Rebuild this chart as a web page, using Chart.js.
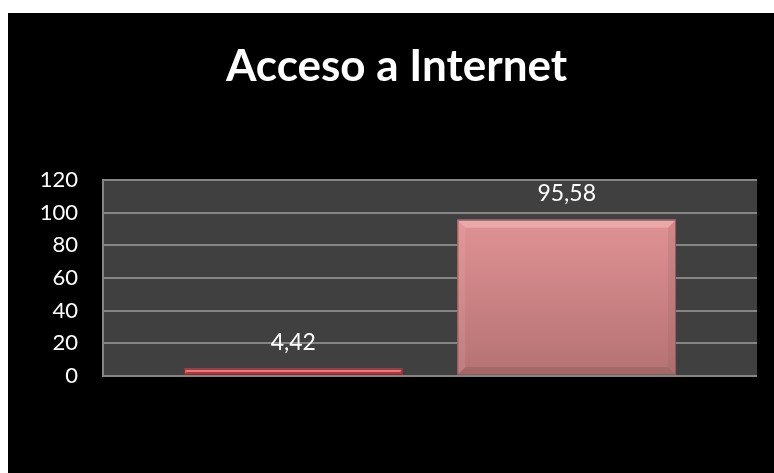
<!DOCTYPE html>
<html>
<head>
<meta charset="utf-8">
<script src="https://cdn.jsdelivr.net/npm/chart.js@4"></script>
<style>
    html, body { margin: 0; padding: 0; background: #ffffff; }
    #frame { position: absolute; left: 8px; top: 13px; width: 766px; height: 460px; background: #000000; }
</style>
</head>
<body>
<div id="frame"><canvas id="chart"></canvas></div>
<script>
// Chart values
const categories = ["Acceso a Internet"];
const seriesNames = ["No", "Sí"];
const seriesValues = [4.42, 95.58];
const tickValues = [0, 20, 40, 60, 80, 100, 120];

// Colours per series: [top, bottom, highlight, shadow]
const barColors = [
    ["#e0555a", "#c63c41", "#f08a8c", "#8c2a2d"],
    ["#e09294", "#b57273", "#eeb0b0", "#8e5a5b"],
];

// Dark plot background
const plotBackground = {
    id: "plotBackground",
    beforeDraw(chart) {
        const { ctx, chartArea } = chart;
        ctx.save();
        ctx.fillStyle = "#404040";
        ctx.fillRect(chartArea.left, chartArea.top, chartArea.right - chartArea.left, chartArea.bottom - chartArea.top);
        ctx.restore();
    },
};

// Bevelled bars plus value labels
const bevelBars = {
    id: "bevelBars",
    afterDatasetsDraw(chart) {
        const ctx = chart.ctx;
        chart.data.datasets.forEach((ds, i) => {
            const meta = chart.getDatasetMeta(i);
            const c = barColors[i];
            meta.data.forEach((bar, j) => {
                const left = bar.x - bar.width / 2;
                const right = bar.x + bar.width / 2;
                const top = bar.y;
                const bottom = bar.base;
                const h = bottom - top;
                const b = Math.min(8, h / 2);

                ctx.save();
                const grad = ctx.createLinearGradient(0, top, 0, bottom);
                grad.addColorStop(0, c[0]);
                grad.addColorStop(1, c[1]);
                ctx.fillStyle = grad;
                ctx.fillRect(left, top, bar.width, h);

                // top highlight
                ctx.fillStyle = c[2];
                ctx.globalAlpha = 0.75;
                ctx.beginPath();
                ctx.moveTo(left, top);
                ctx.lineTo(right, top);
                ctx.lineTo(right - b, top + b);
                ctx.lineTo(left + b, top + b);
                ctx.closePath();
                ctx.fill();

                // bottom shadow
                ctx.fillStyle = c[3];
                ctx.globalAlpha = 0.45;
                ctx.beginPath();
                ctx.moveTo(left, bottom);
                ctx.lineTo(right, bottom);
                ctx.lineTo(right - b, bottom - b);
                ctx.lineTo(left + b, bottom - b);
                ctx.closePath();
                ctx.fill();

                // side edges
                ctx.globalAlpha = 0.18;
                ctx.beginPath();
                ctx.moveTo(right, top);
                ctx.lineTo(right, bottom);
                ctx.lineTo(right - b, bottom - b);
                ctx.lineTo(right - b, top + b);
                ctx.closePath();
                ctx.fill();
                ctx.fillStyle = c[2];
                ctx.globalAlpha = 0.2;
                ctx.beginPath();
                ctx.moveTo(left, top);
                ctx.lineTo(left, bottom);
                ctx.lineTo(left + b, bottom - b);
                ctx.lineTo(left + b, top + b);
                ctx.closePath();
                ctx.fill();

                ctx.globalAlpha = 1;
                ctx.strokeStyle = c[3];
                ctx.lineWidth = 1;
                ctx.strokeRect(left + 0.5, top + 0.5, bar.width - 1, h - 1);

                // value label
                const value = ds.data[j];
                ctx.fillStyle = "#ffffff";
                ctx.font = "23px Lato";
                ctx.textAlign = "center";
                ctx.textBaseline = "alphabetic";
                ctx.fillText(value.toFixed(2).replace(".", ","), bar.x, top - 19);
                ctx.restore();
            });
        });
    },
};

const ctx = document.getElementById("chart").getContext("2d");

new Chart(ctx, {
    type: "bar",
    data: {
        labels: categories,
        datasets: seriesNames.map((name, i) => ({
            label: name,
            data: [seriesValues[i]],
            backgroundColor: "rgba(0,0,0,0)",
            borderWidth: 0,
            categoryPercentage: 0.836,
            barPercentage: 0.8,
        })),
    },
    options: {
        responsive: true,
        maintainAspectRatio: false,
        animation: false,
        layout: {
            padding: { left: 28, right: 17, top: 0, bottom: 97 },
        },
        plugins: {
            legend: { display: false },
            tooltip: { enabled: false },
            title: {
                display: true,
                text: "Acceso a Internet",
                color: "#ffffff",
                font: { family: "Lato", size: 44, weight: "bold" },
                padding: { top: 27, bottom: 87 },
            },
        },
        scales: {
            x: {
                display: false,
            },
            y: {
                min: 0,
                max: 120,
                afterBuildTicks(axis) {
                    axis.ticks = tickValues.map((v) => ({ value: v }));
                },
                afterFit(axis) {
                    axis.width = 67;
                },
                ticks: {
                    color: "#ffffff",
                    font: { family: "Lato", size: 22 },
                    padding: 25,
                },
                grid: {
                    color: "#858585",
                    lineWidth: 2,
                    drawTicks: false,
                },
                border: {
                    display: true,
                    color: "#858585",
                    width: 2,
                },
            },
        },
    },
    plugins: [plotBackground, bevelBars],
});
</script>
</body>
</html>
